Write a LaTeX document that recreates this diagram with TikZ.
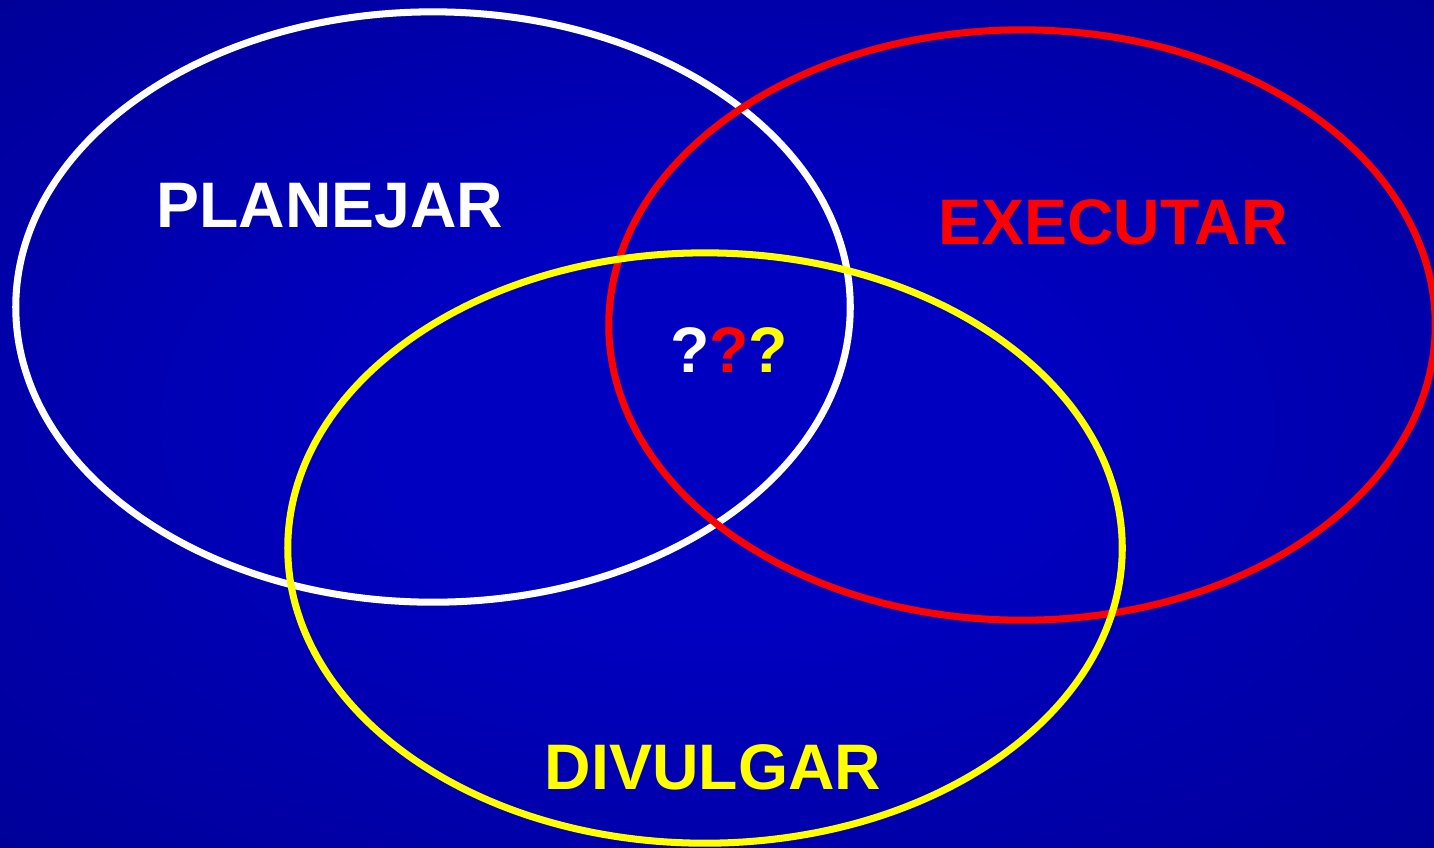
\documentclass[tikz,border=0pt]{standalone}
\usepackage{fontspec}
\setmainfont{Liberation Sans}
\definecolor{bginner}{RGB}{0,0,192}
\definecolor{bgouter}{RGB}{0,0,128}
\definecolor{vwhite}{RGB}{255,255,255}
\definecolor{vred}{RGB}{255,0,0}
\definecolor{vyellow}{RGB}{255,255,0}
\pgfdeclareradialshading{bgglow}{\pgfpoint{0bp}{0bp}}{color(0bp)=(bginner); color(12bp)=(bginner); color(50bp)=(bgouter)}
\tikzset{
  ring/.style={line width=2pt},
  setname/.style={font=\fontsize{18.3}{21}\selectfont\bfseries, inner sep=0pt}
}

\begin{document}
\begin{tikzpicture}[x=0.01cm, y=-0.01cm]
  % background
  \shade[shading=bgglow] (0,0) rectangle (1434,847);
  \useasboundingbox (0,0) rectangle (1434,847);
  % the three sets
  \draw[ring, vwhite]  (433,307)  ellipse [x radius=4.17cm, y radius=2.95cm];
  \draw[ring, vred]    (1022,325) ellipse [x radius=4.13cm, y radius=2.95cm];
  \draw[ring, vyellow] (705,548)  ellipse [x radius=4.17cm, y radius=2.95cm];
  % labels
  \node[setname, text=vwhite]  (planejar) at (330,206) {PLANEJAR};
  \node[setname, text=vred]    (executar) at (1113,222) {EXECUTAR};
  \node[setname, text=vyellow] (divulgar) at (713,767) {DIVULGAR};
  \node[setname] (centre) at (729,350)
    {\textcolor{vwhite}{?}\textcolor{vred}{?}\textcolor{vyellow}{?}};
\end{tikzpicture}
\end{document}
